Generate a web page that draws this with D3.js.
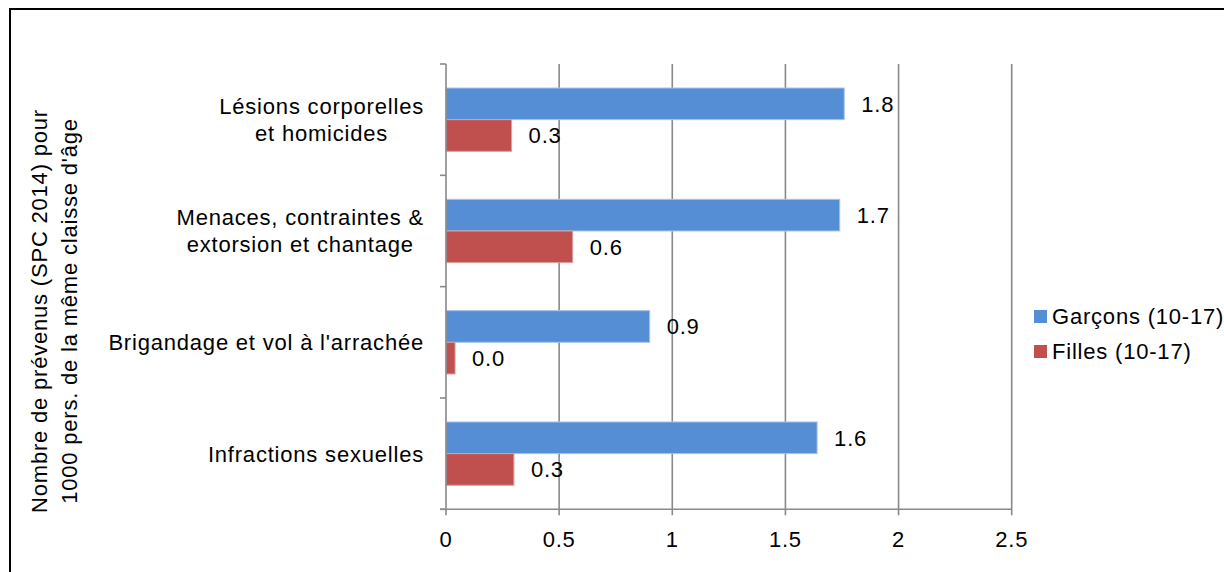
<!DOCTYPE html>
<html><head><meta charset="utf-8">
<script src="https://cdn.jsdelivr.net/npm/d3@7"></script>
<style>
html,body{margin:0;padding:0;background:#fff;}
svg{display:block;font-family:"Liberation Sans",Arial,sans-serif;}
svg text{letter-spacing:0.8px;}
</style></head>
<body>
<svg id="chart" width="1224" height="572"></svg>
<script>
const categories = [
  ["Lésions corporelles", "et homicides"],
  ["Menaces, contraintes &", "extorsion et chantage"],
  ["Brigandage et vol à l'arrachée"],
  ["Infractions sexuelles"]
];
const seriesNames = ["Garçons (10-17)", "Filles (10-17)"];
const garcons = [1.76, 1.74, 0.9, 1.64];
const filles = [0.29, 0.56, 0.04, 0.3];
const xTicks = [0, 0.5, 1, 1.5, 2, 2.5];
const xTickLabels = ["0", "0.5", "1", "1.5", "2", "2.5"];
const yTitle = ["Nombre de prévenus (SPC 2014) pour", "1000 pers. de la même claisse d'âge"];
const colors = ["#558ED5", "#C0504D"];
const strokes = ["#A7C4EA", "#DDA09E"];

(function () {
const svg = d3.select("#chart");
const FS = 22;
const pL = 446, pR = 1011.7, pT = 64, pB = 509.3;

svg.append("rect").attr("x", 10).attr("y", 9).attr("width", 1300).attr("height", 700)
  .attr("fill", "none").attr("stroke", "#000").attr("stroke-width", 2);

const catIdx = categories.map((d, i) => i);
const x = d3.scaleLinear().domain([0, 2.5]).range([pL, pR]);
const y = d3.scaleBand().domain(catIdx).range([pT, pB]).padding(0);
const bw = y.bandwidth();
const ys = d3.scaleBand().domain([0, 1]).range([24, bw - 24]).padding(0);

const grid = "#898989";
svg.append("g").selectAll("line").data(xTicks.slice(1)).join("line")
  .attr("x1", d => x(d)).attr("x2", d => x(d))
  .attr("y1", pT).attr("y2", pB + 6)
  .attr("stroke", grid).attr("stroke-width", 1.6);

const series = [garcons, filles];
series.forEach((vals, s) => {
  svg.append("g").selectAll("rect").data(vals).join("rect")
    .attr("x", x(0))
    .attr("y", (d, i) => y(i) + ys(s))
    .attr("width", d => x(d) - x(0))
    .attr("height", ys.bandwidth())
    .attr("fill", colors[s]).attr("stroke", strokes[s]).attr("stroke-width", 1);
  svg.append("g").selectAll("text").data(vals).join("text")
    .attr("x", d => x(d) + 17)
    .attr("y", (d, i) => y(i) + ys(s) + ys.bandwidth() / 2)
    .attr("dy", "0.36em")
    .attr("font-size", FS).attr("fill", "#000")
    .text(d => d3.format(".1f")(d));
});

svg.append("line").attr("x1", pL).attr("x2", pL).attr("y1", pT).attr("y2", pB + 6)
  .attr("stroke", grid).attr("stroke-width", 1.6);
const yb = catIdx.map(i => y(i)).concat([pB]);
svg.append("g").selectAll("line").data(yb).join("line")
  .attr("x1", pL - 6).attr("x2", pL).attr("y1", d => d).attr("y2", d => d)
  .attr("stroke", grid).attr("stroke-width", 1.6);

svg.append("line").attr("x1", pL - 6).attr("x2", pR).attr("y1", pB).attr("y2", pB)
  .attr("stroke", grid).attr("stroke-width", 1.6);
svg.append("g").selectAll("text").data(xTicks).join("text")
  .attr("x", d => x(d)).attr("y", 547)
  .attr("text-anchor", "middle").attr("font-size", FS)
  .text((d, i) => xTickLabels[i]);

const lh = 27;
categories.forEach((lines, i) => {
  const g = svg.append("g");
  const cy = y(i) + bw / 2;
  const texts = g.selectAll("text").data(lines).join("text")
    .attr("font-size", FS).attr("text-anchor", "middle")
    .attr("y", (d, j) => cy + (j - (lines.length - 1) / 2) * lh)
    .attr("dy", "0.36em")
    .text(d => d);
  let maxW = 0;
  texts.each(function () { maxW = Math.max(maxW, this.getComputedTextLength()); });
  texts.attr("x", 424 - maxW / 2);
});

const tg = svg.append("g").attr("transform", "translate(39,311) rotate(-90)");
tg.selectAll("text").data(yTitle).join("text")
  .attr("x", 0).attr("y", (d, i) => i * 30)
  .attr("dy", "0.36em")
  .attr("text-anchor", "middle").attr("font-size", FS)
  .text(d => d);

const lg = svg.append("g");
seriesNames.forEach((n, i) => {
  lg.append("rect").attr("x", 1034).attr("y", 310 + i * 35).attr("width", 13).attr("height", 13)
    .attr("fill", colors[i]);
  lg.append("text").attr("x", 1052).attr("y", 316.5 + i * 35).attr("dy", "0.36em")
    .attr("font-size", FS).text(n);
});
})();
</script>
</body></html>
